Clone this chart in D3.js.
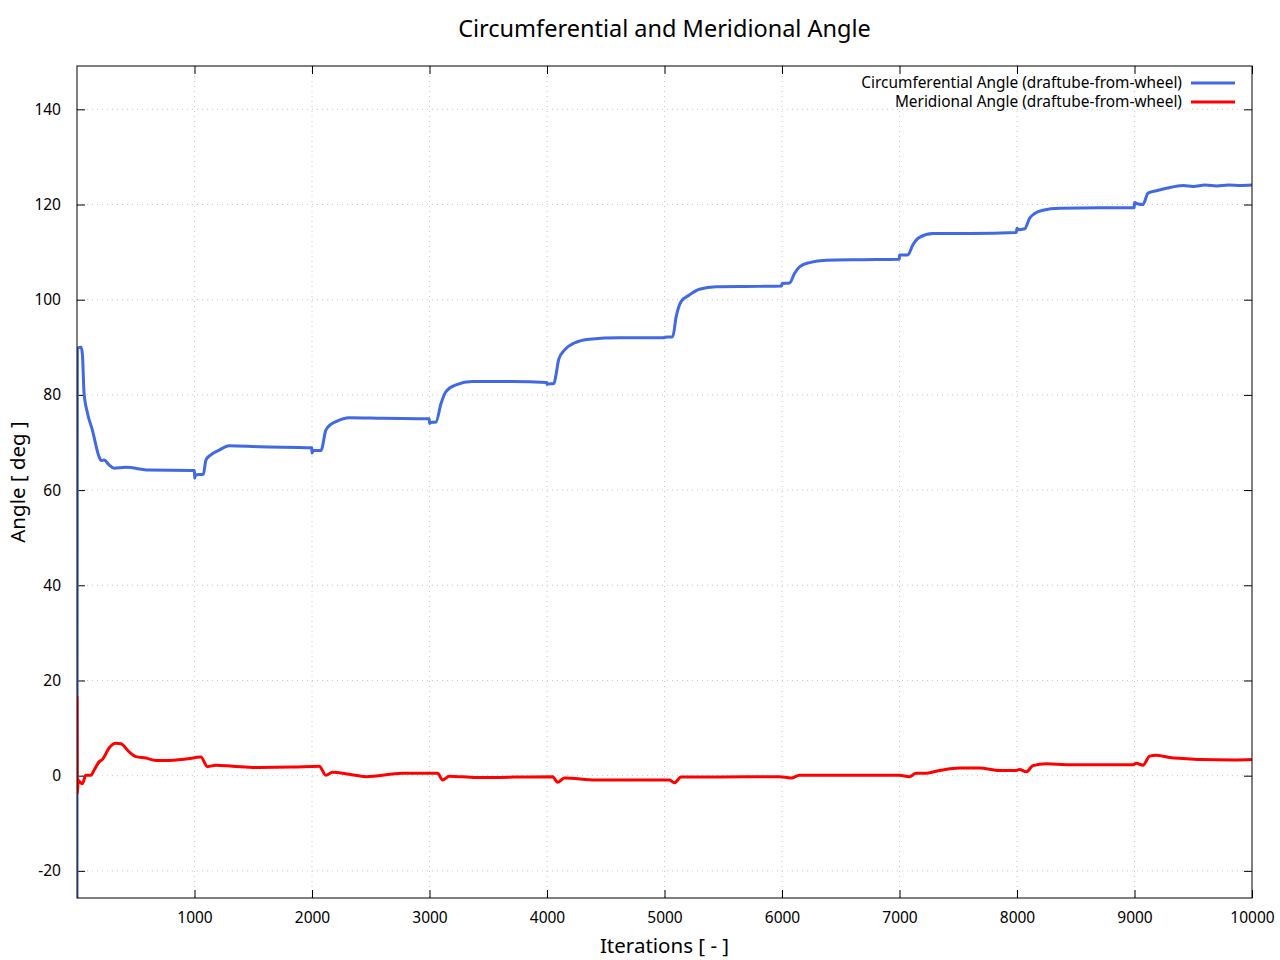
<!DOCTYPE html>
<html>
<head>
<meta charset="utf-8">
<script src="https://cdn.jsdelivr.net/npm/d3@7"></script>
<style>
  body { margin: 0; background: #fff; }
  text { font-family: "Noto Sans", "DejaVu Sans", sans-serif; fill: #000; }
</style>
</head>
<body>
<div id="chart"></div>
<script>
// data
var circIter  = [0, 3, 35, 46, 60, 89, 131, 188, 205, 231, 273, 316, 415, 614, 983, 1000, 1001, 1010, 1075, 1097, 1139, 1210, 1295, 1551, 1998,
                 2000, 2010, 2076, 2118, 2160, 2204, 2317, 2600, 2998, 3000, 3010, 3055, 3098, 3140, 3226, 3364, 3700, 3998,
                 4000, 4010, 4060, 4075, 4100, 4148, 4233, 4361, 4616, 4998, 5000, 5070, 5099, 5141, 5212, 5297, 5440, 5800, 5998,
                 6000, 6064, 6106, 6149, 6234, 6376, 6700, 6998, 7000, 7071, 7113, 7170, 7283, 7600, 7994,
                 8000, 8010, 8065, 8107, 8150, 8221, 8363, 8703, 8998, 9000, 9030, 9072, 9115, 9186, 9271, 9413,
                 9500, 9600, 9700, 9800, 9900, 10000];
var circAngle = [-25.7, 89.8, 90.0, 88.5, 80.4, 76.2, 72.6, 67.0, 66.2, 66.3, 65.3, 64.6, 64.8, 64.2, 64.1, 64.1, 62.5, 63.2, 63.3, 66.3, 67.4, 68.4, 69.3, 69.1, 68.9,
                 67.8, 68.3, 68.3, 72.6, 73.8, 74.4, 75.2, 75.1, 75.0, 74.0, 74.2, 74.3, 78.2, 80.7, 82.1, 82.8, 82.8, 82.6,
                 82.2, 82.3, 82.4, 84.0, 87.5, 89.4, 90.9, 91.7, 92.0, 92.0, 92.1, 92.2, 96.4, 99.6, 101.0, 102.2, 102.7, 102.8, 102.9,
                 103.4, 103.5, 105.5, 106.9, 107.8, 108.3, 108.4, 108.5, 109.4, 109.4, 111.5, 113.1, 113.9, 113.9, 114.1,
                 115.0, 114.7, 114.9, 117.1, 118.1, 118.8, 119.2, 119.3, 119.3, 120.4, 120.1, 120.0, 122.4, 122.9, 123.4, 124.0,
                 123.8, 124.1, 123.9, 124.1, 124.0, 124.1];

var meriIter  = [0, 3, 10, 24, 46, 75, 118, 146, 188, 216, 273, 330, 373, 444, 501, 586, 671, 756, 926, 1054, 1110, 1182, 1323, 1551, 1834,
                 2061, 2118, 2175, 2316, 2459, 2771, 3069, 3111, 3168, 3396, 4048, 4091, 4148, 4418, 5042, 5084, 5141, 5440,
                 5978, 6078, 6149, 6999, 7084, 7141, 7213, 7341, 7511, 7681, 7851, 7994, 8022, 8079, 8135, 8249, 8419, 8987,
                 9015, 9072, 9129, 9186, 9243, 9300, 9413, 9555, 9838, 10000];
var meriAngle = [16.7, -3.7, -1.0, -1.3, -1.7, 0.1, 0.1, 1.2, 2.9, 3.4, 5.8, 6.8, 6.7, 5.0, 4.0, 3.7, 3.2, 3.2, 3.5, 3.9, 1.9, 2.2, 2.0, 1.7, 1.8,
                 2.0, 0.1, 0.7, 0.3, -0.2, 0.5, 0.5, -0.9, -0.1, -0.4, -0.2, -1.4, -0.5, -0.9, -0.9, -1.5, -0.3, -0.3,
                 -0.2, -0.5, 0.1, 0.1, -0.2, 0.5, 0.5, 1.1, 1.6, 1.6, 1.1, 1.1, 1.3, 0.8, 2.1, 2.5, 2.3, 2.3,
                 2.6, 2.2, 4.1, 4.3, 4.1, 3.8, 3.6, 3.4, 3.3, 3.4];

var xTicks = [1000, 2000, 3000, 4000, 5000, 6000, 7000, 8000, 9000, 10000];
var yTicks = [-20, 0, 20, 40, 60, 80, 100, 120, 140];
var seriesNames = ["Circumferential Angle (draftube-from-wheel)", "Meridional Angle (draftube-from-wheel)"];
var seriesColors = ["#4169e1", "#ff0000"];

// set the dimensions and margins of the graph
var margin = {top: 66, right: 28, bottom: 62, left: 77},
    width = 1280 - margin.left - margin.right,
    height = 960 - margin.top - margin.bottom;

var svg = d3.select("#chart")
  .append("svg")
    .attr("width", 1280)
    .attr("height", 960);

var chart = svg.append("g")
    .attr("transform", "translate(" + margin.left + "," + margin.top + ")");

var x = d3.scaleLinear().domain([0, 10000]).range([0, width]);
var y = d3.scaleLinear().domain([-25.7, 149.1]).range([height, 0]);

// plain integers with an ascii minus, like gnuplot
var fmt = function(d) { return String(d); };

// grid
chart.append("g").selectAll("line").data(xTicks.slice(0, -1)).enter().append("line")
    .attr("x1", function(d) { return x(d); }).attr("x2", function(d) { return x(d); })
    .attr("y1", 0).attr("y2", height)
    .attr("stroke", "#c8c8c8").attr("stroke-width", 1).attr("stroke-dasharray", "1,4");
chart.append("g").selectAll("line").data(yTicks).enter().append("line")
    .attr("y1", function(d) { return y(d); }).attr("y2", function(d) { return y(d); })
    .attr("x1", 0).attr("x2", width)
    .attr("stroke", "#c8c8c8").attr("stroke-width", 1).attr("stroke-dasharray", "1,4");

// axes, ticks point inward and mirror on top / right
var tickLen = 8;
chart.append("g")
    .attr("transform", "translate(0," + height + ")")
    .call(d3.axisBottom(x).tickValues(xTicks).tickFormat(fmt).tickSizeInner(-tickLen).tickSizeOuter(0).tickPadding(14))
    .call(function(g) { g.select(".domain").remove(); g.selectAll("text").attr("font-size", 15.5); });
chart.append("g")
    .call(d3.axisTop(x).tickValues(xTicks).tickSizeInner(-tickLen).tickSizeOuter(0))
    .call(function(g) { g.select(".domain").remove(); g.selectAll("text").remove(); });
chart.append("g")
    .call(d3.axisLeft(y).tickValues(yTicks).tickFormat(fmt).tickSizeInner(-tickLen).tickSizeOuter(0).tickPadding(16))
    .call(function(g) { g.select(".domain").remove(); g.selectAll("text").attr("font-size", 15.5); });
chart.append("g")
    .attr("transform", "translate(" + width + ",0)")
    .call(d3.axisRight(y).tickValues(yTicks).tickSizeInner(-tickLen).tickSizeOuter(0))
    .call(function(g) { g.select(".domain").remove(); g.selectAll("text").remove(); });
chart.selectAll(".tick line").attr("stroke", "#000");

chart.append("defs").append("clipPath").attr("id", "clip")
  .append("rect").attr("width", width).attr("height", height);

var line = d3.line()
    .curve(d3.curveMonotoneX)
    .x(function(d) { return x(d[0]); })
    .y(function(d) { return y(d[1]); });

var circ = d3.zip(circIter, circAngle);
var meri = d3.zip(meriIter, meriAngle);

chart.append("path")
    .datum(circ)
    .attr("clip-path", "url(#clip)")
    .attr("fill", "none")
    .attr("stroke", seriesColors[0])
    .attr("stroke-width", 3)
    .attr("stroke-linejoin", "round")
    .attr("d", line);

chart.append("path")
    .datum(meri)
    .attr("clip-path", "url(#clip)")
    .attr("fill", "none")
    .attr("stroke", seriesColors[1])
    .attr("stroke-width", 3)
    .attr("stroke-linejoin", "round")
    .attr("d", line);

// border
chart.append("rect")
    .attr("width", width).attr("height", height)
    .attr("fill", "none").attr("stroke", "#000").attr("stroke-width", 1);

// legend
var legend = chart.append("g").selectAll("g").data(seriesNames).enter().append("g")
    .attr("transform", function(d, i) { return "translate(0," + (17 + i * 19) + ")"; });
legend.append("text")
    .attr("x", width - 70).attr("dy", "0.35em")
    .attr("text-anchor", "end").attr("font-size", 15.4)
    .text(function(d) { return d; });
legend.append("line")
    .attr("x1", width - 61).attr("x2", width - 17)
    .attr("stroke", function(d, i) { return seriesColors[i]; })
    .attr("stroke-width", 3);

// titles
svg.append("text")
    .attr("x", margin.left + width / 2).attr("y", 37)
    .attr("text-anchor", "middle").attr("font-size", 23.5)
    .text("Circumferential and Meridional Angle");
svg.append("text")
    .attr("x", margin.left + width / 2).attr("y", 953)
    .attr("text-anchor", "middle").attr("font-size", 20.5)
    .text("Iterations [ - ]");
svg.append("text")
    .attr("transform", "translate(25," + (margin.top + height / 2) + ") rotate(-90)")
    .attr("text-anchor", "middle").attr("font-size", 20.5)
    .text("Angle [ deg ]");
</script>
</body>
</html>
